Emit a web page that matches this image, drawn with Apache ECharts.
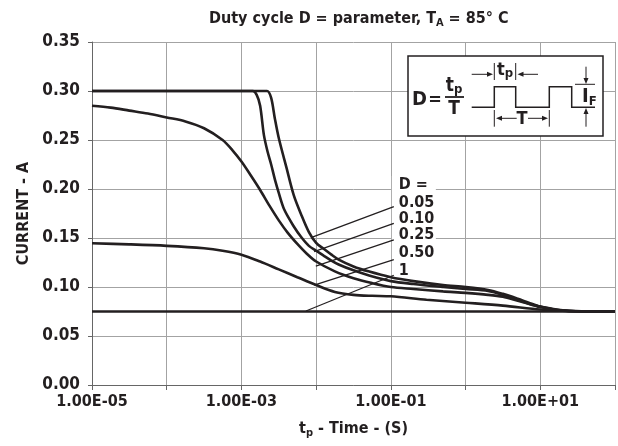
<!DOCTYPE html>
<html><head><meta charset="utf-8">
<script src="https://cdn.jsdelivr.net/npm/echarts@6/dist/echarts.min.js"></script>
<style>html,body{margin:0;padding:0;background:#fff}#c{width:618px;height:446px}</style>
</head><body><div id="c"></div>
<script>
// ---------------- data ----------------
const xTickExps   = [-5, -3, -1, 1];
const xTickLabels = ['1.00E-05', '1.00E-03', '1.00E-01', '1.00E+01'];
const yTickLabels = ['0.00', '0.05', '0.10', '0.15', '0.20', '0.25', '0.30', '0.35'];

const d005T = [1e-5, 1e-3, 2.2e-3, 2.5e-3, 2.8e-3, 3.16e-3, 4e-3, 5e-3, 6.3e-3, 8e-3, 1e-2, 1.26e-2, 1.6e-2, 2e-2, 3.16e-2, 5e-2, 0.1, 0.2, 0.5, 1, 2, 3.16, 5, 7, 10, 15, 20, 30, 50, 100];
const d005I = [0.300, 0.300, 0.300, 0.293, 0.272, 0.252, 0.222, 0.194, 0.174, 0.156, 0.145, 0.139, 0.133, 0.128, 0.121, 0.116, 0.110, 0.106, 0.102, 0.100, 0.097, 0.093, 0.088, 0.084, 0.080, 0.0775, 0.0763, 0.0755, 0.075, 0.075];

const d010T = [1e-5, 1e-3, 1.42e-3, 1.6e-3, 1.78e-3, 2e-3, 2.24e-3, 2.5e-3, 2.82e-3, 3.16e-3, 3.74e-3, 5e-3, 6.3e-3, 8e-3, 1e-2, 1.26e-2, 1.6e-2, 2e-2, 3.16e-2, 5e-2, 0.1, 0.2, 0.5, 1, 2, 3.16, 5, 7, 10, 15, 20, 30, 50, 100];
const d010I = [0.300, 0.300, 0.300, 0.296, 0.285, 0.255, 0.238, 0.225, 0.209, 0.196, 0.179, 0.162, 0.151, 0.142, 0.137, 0.132, 0.127, 0.123, 0.117, 0.112, 0.106, 0.103, 0.100, 0.098, 0.096, 0.092, 0.087, 0.083, 0.0795, 0.077, 0.076, 0.0753, 0.075, 0.075];

const d025T = [1e-5, 1.78e-5, 3.16e-5, 5.6e-5, 1e-4, 1.78e-4, 3.16e-4, 5.6e-4, 7.5e-4, 1e-3, 1.33e-3, 1.78e-3, 2.37e-3, 3.16e-3, 4.2e-3, 5.6e-3, 7.5e-3, 1e-2, 1.78e-2, 3.16e-2, 5.6e-2, 0.1, 0.2, 0.5, 1, 2, 3.16, 5, 7, 10, 15, 20, 30, 50, 100];
const d025I = [0.285, 0.283, 0.280, 0.277, 0.273, 0.269, 0.262, 0.250, 0.240, 0.228, 0.214, 0.199, 0.183, 0.168, 0.155, 0.144, 0.134, 0.126, 0.116, 0.109, 0.104, 0.100, 0.098, 0.0955, 0.094, 0.092, 0.090, 0.086, 0.083, 0.080, 0.077, 0.076, 0.0753, 0.075, 0.075];

const d050T = [1e-5, 3.16e-5, 1e-4, 3.16e-4, 5.6e-4, 1e-3, 1.78e-3, 3.16e-3, 5.6e-3, 1e-2, 1.78e-2, 3.16e-2, 5.6e-2, 0.1, 0.3, 1, 3.16, 10, 20, 30, 100];
const d050I = [0.1446, 0.1435, 0.142, 0.1395, 0.137, 0.133, 0.126, 0.118, 0.110, 0.102, 0.095, 0.092, 0.091, 0.0905, 0.087, 0.084, 0.081, 0.077, 0.0758, 0.0752, 0.075];

const d100T = [1e-5, 100];
const d100I = [0.075, 0.075];

// parameter labels and their leader lines (data space)
const paramLabels = ['D =', '0.05', '0.10', '0.25', '0.50', '1'];
const paramLabelT = 0.128;
const paramLabelI = [0.2041, 0.1862, 0.1694, 0.1530, 0.1352, 0.1163];
const leaderFromT = [0.1096, 0.1096, 0.1096, 0.1096, 0.1096];
const leaderFromI = [0.182, 0.165, 0.148, 0.128, 0.112];
const leaderToT   = [8.9e-3, 9.4e-3, 9.9e-3, 9.4e-3, 7.3e-3];
const leaderToI   = [0.151, 0.136, 0.1214, 0.102, 0.0755];

// ---------------- chart ----------------
const FONT = "'DejaVu Sans Condensed','Liberation Sans Narrow',sans-serif";
const INK = '#231f20';
const GRID = '#a3a3a3';
const pairs = (t, v) => t.map((x, i) => [x, v[i]]);

const chart = echarts.init(document.getElementById('c'), null, {renderer: 'canvas'});

function curve(name, t, v, extra) {
  return Object.assign({
    name, type: 'line', data: pairs(t, v), showSymbol: false, symbol: 'none',
    smooth: 0.3,
    lineStyle: {color: INK, width: 2.6}, z: 3, animation: false, silent: true
  }, extra || {});
}

const leaderData = leaderFromT.map((t, i) => [
  {coord: [t, leaderFromI[i]]}, {coord: [leaderToT[i], leaderToI[i]]}
]);

const richSub = (big, small) => ({
  a: {fontFamily: FONT, fontWeight: 'bold', fontSize: big, color: INK, lineHeight: big + 4},
  s: {fontFamily: FONT, fontWeight: 'bold', fontSize: small, color: INK, lineHeight: small, verticalAlign: 'bottom'}
});

chart.setOption({
  animation: false,
  backgroundColor: '#fff',
  title: {
    text: '{a|Duty cycle D = parameter, T}{s|A}{a| = 85° C}',
    left: 204, top: 4,
    textStyle: {rich: richSub(16, 11)}
  },
  grid: {left: 92, right: 1, top: 42, bottom: 61},
  xAxis: {
    type: 'log', logBase: 10, min: 1e-5, max: 100,
    axisLine: {show: true, lineStyle: {color: '#666', width: 1}},
    axisTick: {show: true, inside: false, length: 5, lineStyle: {color: '#666'}},
    minorTick: {show: false},
    splitLine: {show: true, lineStyle: {color: GRID, width: 1}},
    axisLabel: {
      margin: 9, color: INK, fontFamily: FONT, fontWeight: 'bold', fontSize: 16,
      formatter: v => {
        const e = Math.round(Math.log10(v));
        const k = xTickExps.indexOf(e);
        return k >= 0 ? xTickLabels[k] : '';
      }
    },
    name: '{a|t}{s|p}{a| - Time - (S)}',
    nameLocation: 'middle', nameGap: 34,
    nameTextStyle: {rich: richSub(16, 11)}
  },
  yAxis: {
    type: 'value', min: 0, max: 0.35, interval: 0.05,
    axisLine: {show: true, lineStyle: {color: '#666', width: 1}},
    axisTick: {show: true, inside: false, length: 4, lineStyle: {color: '#666'}},
    splitLine: {show: true, lineStyle: {color: GRID, width: 1}},
    axisLabel: {
      margin: 12, color: INK, fontFamily: FONT, fontWeight: 'bold', fontSize: 17,
      formatter: v => yTickLabels[Math.round(v / 0.05)]
    },
    name: 'CURRENT - A', nameLocation: 'middle', nameRotate: 90, nameGap: 60,
    nameTextStyle: {fontFamily: FONT, fontWeight: 'bold', fontSize: 16, color: INK}
  },
  series: [
    curve('D = 0.05', d005T, d005I),
    curve('D = 0.10', d010T, d010I),
    curve('D = 0.25', d025T, d025I),
    curve('D = 0.50', d050T, d050I),
    curve('D = 1', d100T, d100I, {
      smooth: false,
      markLine: {
        silent: true, symbol: ['none', 'none'], animation: false,
        label: {show: false}, emphasis: {disabled: true},
        lineStyle: {color: INK, width: 1.3, type: 'solid'},
        data: leaderData
      }
    })
  ]
});

// ---------------- annotations ----------------
function arrowHead(x, y, dir, len, hw) {
  let pts;
  if (dir === 'r') pts = [[x, y], [x - len, y - hw], [x - len, y + hw]];
  else if (dir === 'l') pts = [[x, y], [x + len, y - hw], [x + len, y + hw]];
  else if (dir === 'd') pts = [[x, y], [x - hw, y - len], [x + hw, y - len]];
  else pts = [[x, y], [x - hw, y + len], [x + hw, y + len]];
  return {type: 'polygon', shape: {points: pts}, style: {fill: INK}, silent: true};
}
function ln(x1, y1, x2, y2, w) {
  return {type: 'line', shape: {x1, y1, x2, y2}, style: {stroke: INK, lineWidth: w || 1}, silent: true};
}
function txt(x, y, text, size, align, rich) {
  const st = {text, x: 0, y: 0, fontFamily: FONT, fontWeight: 'bold', fontSize: size, fill: INK,
              align: align || 'left', verticalAlign: 'middle'};
  if (rich) st.rich = rich;
  return {type: 'text', x, y, style: st, silent: true};
}
const gRich = (big, small) => ({
  m: {fontFamily: FONT, fontWeight: 'bold', fontSize: big, fill: INK, lineHeight: big + 2},
  s: {fontFamily: FONT, fontWeight: 'bold', fontSize: small, fill: INK, lineHeight: small, verticalAlign: 'bottom'}
});

const labelPix = paramLabelI.map(v => chart.convertToPixel({gridIndex: 0}, [paramLabelT, v]));
const gx = labelPix[0][0];
const graphics = [];
graphics.push({
  type: 'rect', z: 1, silent: true,
  shape: {x: gx - 7, y: labelPix[0][1] - 9, width: 44, height: labelPix[5][1] - labelPix[0][1] + 16},
  style: {fill: '#fff'}
});
paramLabels.forEach((s, i) => {
  const g = txt(labelPix[i][0], labelPix[i][1], s, 16, 'left');
  g.z = 10;
  graphics.push(g);
});

// inset explanatory box (pixel layout of the decorative diagram)
const inset = {
  type: 'group', x: 408, y: 56, z: 10,
  children: [
    {type: 'rect', shape: {x: 0, y: 0, width: 195, height: 80}, style: {fill: '#fff', stroke: INK, lineWidth: 1.5}, silent: true},
    txt(4, 44, 'D', 20, 'left'),
    txt(27, 44, '=', 18, 'center'),
    txt(46, 30, '{m|t}{s|p}', 19, 'center', gRich(19, 13)),
    ln(37, 41, 56, 41, 1.8),
    txt(46, 53, 'T', 19, 'center'),
    {type: 'polyline', silent: true,
     shape: {points: [[63.7, 51.3], [86.3, 51.3], [86.3, 30.7], [107.7, 30.7], [107.7, 51.3], [141.3, 51.3], [141.3, 30.7], [163.7, 30.7], [163.7, 51.3], [187, 51.3]]},
     style: {stroke: INK, lineWidth: 1.5, fill: null}},
    // tp marker
    ln(63.7, 18.3, 80, 18.3, 1), arrowHead(85, 18.3, 'r', 6, 2.5),
    ln(86.3, 7, 86.3, 24, 1), ln(107.7, 7, 107.7, 24, 1),
    txt(97, 14, '{m|t}{s|p}', 17, 'center', gRich(18, 13)),
    ln(115, 18.3, 130, 18.3, 1), arrowHead(109.5, 18.3, 'l', 6, 2.5),
    // T marker
    ln(86.3, 54, 86.3, 70.7, 1), ln(141.3, 54, 141.3, 70.7, 1),
    ln(94, 62.3, 108.7, 62.3, 1), arrowHead(88, 62.3, 'l', 6, 2.5),
    txt(114, 63, 'T', 18, 'center'),
    ln(120, 62.3, 134, 62.3, 1), arrowHead(140, 62.3, 'r', 6, 2.5),
    // I_F marker
    ln(167, 28.3, 187, 28.3, 1),
    ln(178, 10.7, 178, 22, 1), arrowHead(178, 28, 'd', 6, 2.5),
    ln(178, 58, 178, 70.7, 1), arrowHead(178, 52, 'u', 6, 2.5),
    txt(174, 41, '{m|I}{s|F}', 20, 'left', gRich(20, 13))
  ]
};
graphics.push(inset);

chart.setOption({graphic: {elements: graphics}});
</script>
</body></html>
